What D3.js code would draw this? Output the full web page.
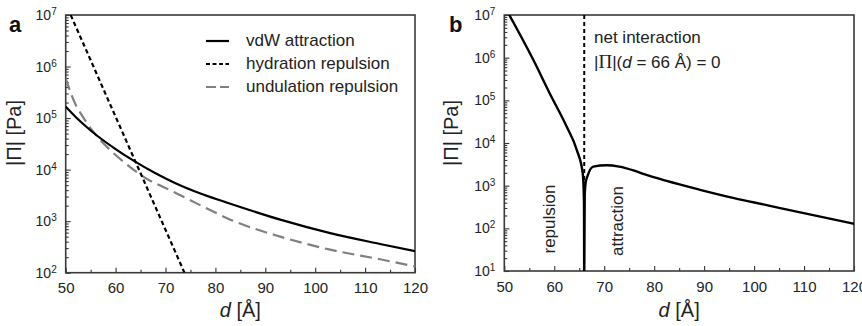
<!DOCTYPE html>
<html>
<head>
<meta charset="utf-8">
<script src="https://cdn.jsdelivr.net/npm/d3@7"></script>
<style>
  html, body { margin: 0; padding: 0; background: #fff; }
  svg { display: block; font-family: "Liberation Sans", Arial, sans-serif; }
</style>
</head>
<body>
<div id="chart"></div>
<script>
// panel a: pressure components, [d (Å), |Π| (Pa)]
const vdwAttraction = [
  [50, 1.66e5], [52, 1.05e5], [55, 5.75e4], [60, 2.5e4], [64, 1.41e4],
  [68, 8.5e3], [72, 5.45e3], [77, 3.44e3], [83, 2.18e3], [93, 1.07e3],
  [103, 5.86e2], [113, 3.61e2], [120, 2.62e2]
];
const hydrationRepulsion = [[51, 1.0e7], [73.8, 1.0e2]];
const undulationRepulsion = [
  [50, 5.9e5], [51, 3.1e5], [52, 1.82e5], [53, 1.23e5], [54, 8.7e4],
  [55, 6.3e4], [56, 4.8e4], [57, 3.7e4], [59, 2.35e4], [62, 1.32e4],
  [65, 7.9e3], [72, 3.55e3], [78, 1.82e3], [83, 1.07e3], [93, 5.0e2],
  [103, 2.8e2], [113, 1.82e2], [120, 1.32e2]
];
// panel b: net interaction
const netInteraction = [
  [51, 1.0e7], [55.8, 8.9e5], [59.1, 1.45e5], [62.5, 2.4e4], [64.5, 6.9e3],
  [65.7, 1.95e3], [65.95, 4.0e2], [66.0, 5], [66.1, 6.0e2], [66.3, 1.2e3],
  [66.6, 1.6e3], [67.8, 2.8e3], [70.5, 3.0e3], [73, 2.8e3], [76, 2.25e3],
  [78, 1.86e3], [82.5, 1.29e3], [89, 8.1e2], [96, 5.1e2], [102.5, 3.5e2],
  [109, 2.4e2], [120, 1.28e2]
];
const zeroCrossing = 66;

const xMajor = [50, 60, 70, 80, 90, 100, 110, 120];
const xMinor = [55, 65, 75, 85, 95, 105, 115];
const legendLabels = ["vdW attraction", "hydration repulsion", "undulation repulsion"];

const W = 862, H = 326;
const svg = d3.select("#chart").append("svg")
  .attr("width", W).attr("height", H);

function panel(opts) {
  const { left, right, top, bottom, yMinExp, yMaxExp, id } = opts;
  const x = d3.scaleLinear().domain([50, 120]).range([left, right]);
  const y = d3.scaleLog().domain([Math.pow(10, yMinExp), Math.pow(10, yMaxExp)]).range([bottom, top]);

  svg.append("clipPath").attr("id", id)
    .append("rect").attr("x", left).attr("y", top)
    .attr("width", right - left).attr("height", bottom - top);

  // x axis, ticks pointing in
  const gx = svg.append("g").attr("transform", `translate(0,${bottom})`)
    .call(d3.axisBottom(x).tickValues(xMajor).tickSizeInner(-5).tickSizeOuter(0).tickPadding(10));
  gx.select(".domain").remove();
  gx.selectAll("text").style("font-size", "15px").attr("fill", "#222");
  const gxm = svg.append("g").attr("transform", `translate(0,${bottom})`)
    .call(d3.axisBottom(x).tickValues(xMinor).tickSizeInner(-3).tickSizeOuter(0).tickFormat(""));
  gxm.select(".domain").remove();

  // y axis, log decades with minor ticks
  const decades = d3.range(yMinExp, yMaxExp + 1).map(e => Math.pow(10, e));
  const minors = [];
  for (let e = yMinExp; e < yMaxExp; e++) {
    for (let m = 2; m <= 9; m++) minors.push(m * Math.pow(10, e));
  }
  const gy = svg.append("g").attr("transform", `translate(${left},0)`)
    .call(d3.axisLeft(y).tickValues(decades).tickSizeInner(-5).tickSizeOuter(0).tickPadding(9).tickFormat(""));
  gy.select(".domain").remove();
  gy.selectAll(".tick text").each(function(d) {
    const t = d3.select(this).attr("fill", "#222").style("font-size", "14px");
    t.append("tspan").text("10");
    t.append("tspan").attr("dy", "-0.5em").style("font-size", "10px").text(Math.round(Math.log10(d)));
  });
  const gym = svg.append("g").attr("transform", `translate(${left},0)`)
    .call(d3.axisLeft(y).tickValues(minors).tickSizeInner(-3).tickSizeOuter(0).tickFormat(""));
  gym.select(".domain").remove();
  svg.selectAll(".tick line").attr("stroke", "#333").attr("stroke-width", 1.1);

  // frame
  svg.append("rect")
    .attr("x", left).attr("y", top)
    .attr("width", right - left).attr("height", bottom - top)
    .attr("fill", "none").attr("stroke", "#3a3a3a").attr("stroke-width", 1.6);

  // axis titles
  const xt = svg.append("text")
    .attr("x", (left + right) / 2).attr("y", 317)
    .attr("text-anchor", "middle").style("font-size", "20px").attr("fill", "#222");
  xt.append("tspan").style("font-style", "italic").text("d");
  xt.append("tspan").text(" [Å]");

  svg.append("text")
    .attr("transform", `translate(${opts.yTitleX},133) rotate(-90)`)
    .attr("text-anchor", "middle").style("font-size", "20px").attr("fill", "#222")
    .text("|Π| [Pa]");

  svg.append("text")
    .attr("x", opts.labelX).attr("y", 32)
    .style("font-size", "22px").style("font-weight", "bold").attr("fill", "#111")
    .text(opts.label);

  const g = svg.append("g").attr("clip-path", `url(#${id})`);
  return { x, y, g };
}

// ---- panel a
const pa = panel({ id: "clipA", left: 65.7, right: 415, top: 15, bottom: 272.7,
  yMinExp: 2, yMaxExp: 7, yTitleX: 21, label: "a", labelX: 9 });

const lineA = d3.line().x(d => pa.x(d[0])).y(d => pa.y(d[1]));
const seriesA = [
  { data: undulationRepulsion, color: "#808080", dash: "12,6", curve: d3.curveMonotoneX },
  { data: vdwAttraction, color: "#000", dash: null, curve: d3.curveMonotoneX },
  { data: hydrationRepulsion, color: "#000", dash: "4.5,3", curve: d3.curveLinear }
];
seriesA.forEach(s => {
  pa.g.append("path")
    .attr("d", lineA.curve(s.curve)(s.data))
    .attr("fill", "none").attr("stroke", s.color).attr("stroke-width", 2.2)
    .attr("stroke-dasharray", s.dash);
});

// legend
const legendStyles = [
  { color: "#000", dash: null },
  { color: "#000", dash: "4,2.5" },
  { color: "#808080", dash: "10,4" }
];
legendLabels.forEach((lab, i) => {
  const by = 46 + i * 23;
  svg.append("line")
    .attr("x1", 206).attr("x2", 229).attr("y1", by - 5).attr("y2", by - 5)
    .attr("stroke", legendStyles[i].color).attr("stroke-width", 2.2)
    .attr("stroke-dasharray", legendStyles[i].dash);
  svg.append("text")
    .attr("x", 246).attr("y", by)
    .style("font-size", "17px").attr("fill", "#222")
    .text(lab);
});

// ---- panel b
const pb = panel({ id: "clipB", left: 504.3, right: 854, top: 15, bottom: 271,
  yMinExp: 1, yMaxExp: 7, yTitleX: 458, label: "b", labelX: 449 });

pb.g.append("line")
  .attr("x1", pb.x(zeroCrossing)).attr("x2", pb.x(zeroCrossing))
  .attr("y1", pb.y(1e7)).attr("y2", pb.y(1e3))
  .attr("stroke", "#000").attr("stroke-width", 2).attr("stroke-dasharray", "4,3");

pb.g.append("path")
  .attr("d", d3.line().x(d => pb.x(d[0])).y(d => pb.y(d[1])).curve(d3.curveMonotoneX)(netInteraction))
  .attr("fill", "none").attr("stroke", "#000").attr("stroke-width", 2.4);

svg.append("text")
  .attr("x", 594).attr("y", 43)
  .style("font-size", "17px").attr("fill", "#222")
  .text("net interaction");

const ann = svg.append("text")
  .attr("x", 594).attr("y", 68)
  .style("font-size", "17px").attr("fill", "#222");
ann.append("tspan").text("|");
ann.append("tspan").style("font-family", "'Liberation Serif', serif").style("font-size", "19px").text("Π");
ann.append("tspan").text("|(");
ann.append("tspan").style("font-style", "italic").text("d");
ann.append("tspan").text(" = 66 Å) = 0");

svg.append("text")
  .attr("transform", "translate(555,219) rotate(-90)")
  .attr("text-anchor", "middle").style("font-size", "17px").attr("fill", "#222")
  .text("repulsion");
svg.append("text")
  .attr("transform", "translate(623,221) rotate(-90)")
  .attr("text-anchor", "middle").style("font-size", "17px").attr("fill", "#222")
  .text("attraction");
</script>
</body>
</html>
